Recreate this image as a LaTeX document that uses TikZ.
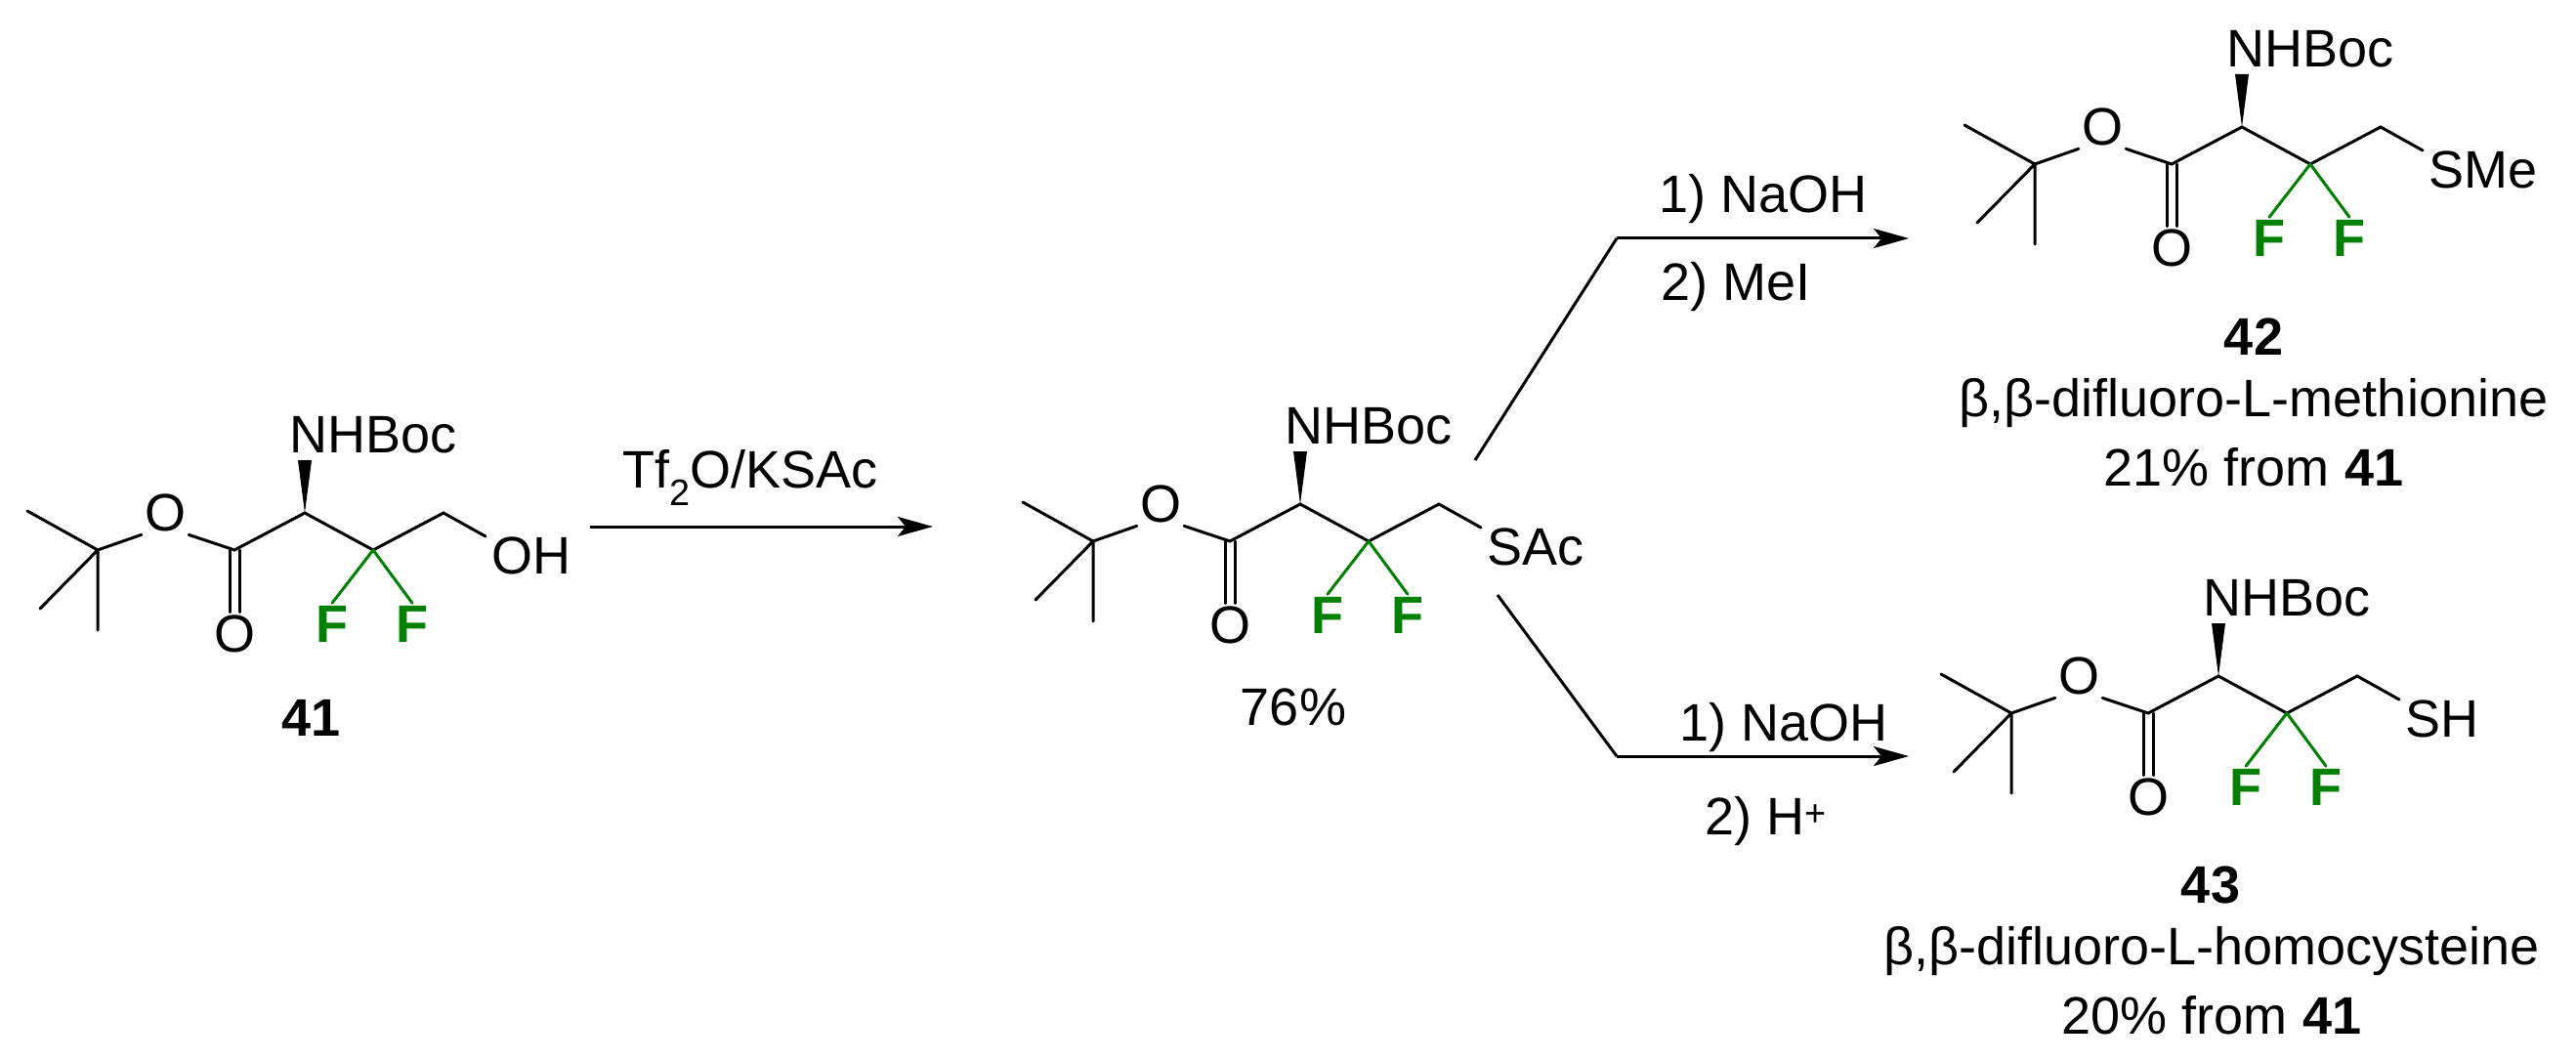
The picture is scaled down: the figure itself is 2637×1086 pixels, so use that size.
\documentclass[tikz,border=0pt]{standalone}
\usepackage{fontspec}
\setmainfont{Liberation Sans}
\usetikzlibrary{arrows.meta}
\definecolor{fgreen}{RGB}{0,128,0}
\tikzset{
  bond/.style={line width=3pt,line cap=round},
  atom/.style={inner sep=3pt,font=\fontsize{54}{60}\selectfont},
  fatom/.style={inner sep=3pt,text=fgreen,font=\fontsize{54}{60}\selectfont\bfseries},
  lbl/.style={inner sep=0pt,font=\fontsize{54}{60}\selectfont},
  rxn/.style={line width=3pt,-{Stealth[length=36pt,width=20pt,inset=8pt]}},
}
\newcommand\mol[4]{%
\begin{scope}[shift={(#2,#3)}]
\coordinate (#1a) at (0,0);
\coordinate (#1q) at (-212,38);
\coordinate (#1m1) at (-284,-2);
\coordinate (#1m2) at (-271,98);
\coordinate (#1m3) at (-212,120);
\node[atom] (#1o) at (-143,0) {O};
\coordinate (#1c) at (-72,38);
\node[atom] (#1oc) at (-72,124) {O};
\node[atom] (#1n) at (70,-80) {NHBoc};
\coordinate (#1f) at (70,38);
\node[fatom] (#1f1) at (28,114) {F};
\node[fatom] (#1f2) at (110,114) {F};
\coordinate (#1h) at (142,0);
\coordinate (#1s) at (185,24);
\node[atom,anchor=west] (#1t) at (188,44) {#4};
\draw[bond] (#1q)--(#1m1) (#1q)--(#1m2) (#1q)--(#1m3);
\draw[bond] (#1q)--(#1o.south west) (#1o.south east)--(#1c)--(#1a)--(#1f)--(#1h)--(#1s);
\draw[bond] ([xshift=-5pt]#1c)--([xshift=-5pt]#1oc.north) ([xshift=5pt]#1c)--([xshift=5pt]#1oc.north);
\draw[bond,fgreen] (#1f)--(#1f1.north) (#1f)--(#1f2.north);
\fill (#1a) -- (-7,-54) -- (7,-54) -- cycle;
\end{scope}}
\begin{document}
\begin{tikzpicture}[x=1pt,y=-1pt]
\useasboundingbox (0,0) rectangle (2637,1086);
\mol{A}{312}{525}{OH}
\node[lbl,font=\fontsize{54}{60}\selectfont\bfseries] (n41) at (319,735) {41};
\mol{B}{1331}{516}{SAc}
\node[lbl] (y76) at (1324,724) {76\%};
\mol{C}{2295}{130}{SMe}
\node[lbl] (c1) at (2307,345) {\textbf{42}};
\node[lbl] (c2) at (2307,413) {β,β-difluoro-L-methionine};
\node[lbl] (c3) at (2307,478) {21\% from \textbf{41}};
\mol{D}{2271}{692}{SH}
\node[lbl] (d1) at (2263,906) {\textbf{43}};
\node[lbl] (d2) at (2264,974) {β,β-difluoro-L-homocysteine};
\node[lbl] (d3) at (2264,1039) {20\% from \textbf{41}};
% arrows
\coordinate (r1s) at (604,539); \coordinate (r1e) at (955,539);
\draw[rxn] (r1s)--(r1e);
\node[lbl] (r1l) at (768,489) {Tf\textsubscript{2}O/KSAc};
\coordinate (u0) at (1510,471); \coordinate (u1) at (1655,244); \coordinate (u2) at (1954,244);
\draw[line width=3pt] (u0)--(u1);
\draw[rxn] (u1)--(u2);
\node[lbl] (ul1) at (1805,204) {1) NaOH};
\node[lbl] (ul2) at (1777,294) {2) MeI};
\coordinate (l0) at (1533,609); \coordinate (l1) at (1655,774); \coordinate (l2) at (1954,774);
\draw[line width=3pt] (l0)--(l1);
\draw[rxn] (l1)--(l2);
\node[lbl] (ll1) at (1826,745) {1) NaOH};
\node[lbl] (ll2) at (1808,841) {2) H\textsuperscript{+}};
\end{tikzpicture}
\end{document}
